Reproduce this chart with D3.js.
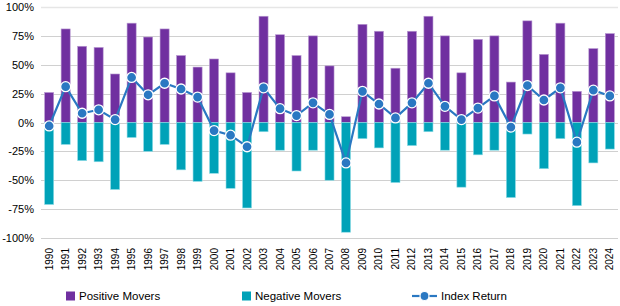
<!DOCTYPE html>
<html>
<head>
<meta charset="utf-8">
<script src="https://cdn.jsdelivr.net/npm/d3@7"></script>
<style>
  body { margin: 0; background: #fff; }
  svg { font-family: "Liberation Sans", Arial, sans-serif; }
</style>
</head>
<body>
<div id="chart"></div>
<script>
var years = ["1990","1991","1992","1993","1994","1995","1996","1997","1998","1999",
  "2000","2001","2002","2003","2004","2005","2006","2007","2008","2009",
  "2010","2011","2012","2013","2014","2015","2016","2017","2018","2019",
  "2020","2021","2022","2023","2024"]

var positiveMovers = [26, 81, 66, 65, 42, 86, 74, 81, 58, 48,
  55, 43, 26, 92, 76, 58, 75, 49, 5, 85,
  79, 47, 79, 92, 75, 43, 72, 75, 35, 88,
  59, 86, 27, 64, 77]

var negativeMovers = [-71, -19, -33, -34, -58, -13, -25, -19, -41, -51,
  -44, -57, -74, -8, -24, -42, -24, -50, -95, -14,
  -22, -52, -20, -8, -24, -56, -28, -24, -65, -10,
  -40, -14, -72, -35, -23]

var indexReturn = [-3, 31, 8, 11, 2.5, 39, 24, 34, 29, 22,
  -7, -11, -21, 30, 12, 6, 17, 7, -35, 27,
  16, 4, 17, 34, 14, 2.5, 12.5, 23, -4, 32,
  19.5, 30, -17, 28, 23]

var yTicks = [1, 0.75, 0.5, 0.25, 0, -0.25, -0.5, -0.75, -1]

var W = 620, H = 306
var margin = { top: 7, right: 2, bottom: 68, left: 41 }
var width = W - margin.left - margin.right
var height = H - margin.top - margin.bottom

var purple = "#7030a0", teal = "#00a2b8", lineBlue = "#2a78c2"

var svg = d3.select("#chart").append("svg")
    .attr("width", W)
    .attr("height", H)

var g = svg.append("g")
    .attr("transform", "translate(" + margin.left + "," + margin.top + ")")

var x = d3.scaleBand()
    .domain(years)
    .range([0, width])
    .paddingInner(0.45)
    .paddingOuter(0.22)

var y = d3.scaleLinear()
    .domain([-1, 1])
    .range([height, 0])

// gridlines
g.selectAll(".grid")
    .data(yTicks)
    .enter()
    .append("line")
    .attr("x1", 0)
    .attr("x2", width)
    .attr("y1", function (d) { return Math.round(y(d)) + 0.5 })
    .attr("y2", function (d) { return Math.round(y(d)) + 0.5 })
    .attr("stroke", function (d) { return d == 1 ? "#e6e6e6" : "#d0d0d0" })
    .attr("stroke-width", function (d) { return d == 1 ? 1.6 : 1 })

// y axis labels
var yAxis = d3.axisLeft(y).tickValues(yTicks).tickSize(0).tickPadding(7)
    .tickFormat(function (d) { return Math.round(d * 100) + "%" })
var ya = g.append("g").call(yAxis)
ya.select(".domain").remove()
ya.selectAll("text").attr("font-size", "11px").attr("fill", "#000")
    .attr("font-family", "Liberation Sans, Arial, sans-serif")

// bars
g.selectAll(".pos")
    .data(positiveMovers)
    .enter()
    .append("rect")
    .attr("x", function (d, i) { return x(years[i]) })
    .attr("width", x.bandwidth())
    .attr("y", function (d) { return y(d / 100) })
    .attr("height", function (d) { return y(0) - y(d / 100) })
    .attr("fill", purple)
    .attr("stroke", "#b99bd2")
    .attr("stroke-width", 0.6)

g.selectAll(".neg")
    .data(negativeMovers)
    .enter()
    .append("rect")
    .attr("x", function (d, i) { return x(years[i]) })
    .attr("width", x.bandwidth())
    .attr("y", y(0))
    .attr("height", function (d) { return y(d / 100) - y(0) })
    .attr("fill", teal)
    .attr("stroke", "#8fdce6")
    .attr("stroke-width", 0.6)

// index return line
var line = d3.line()
    .x(function (d, i) { return x(years[i]) + x.bandwidth() / 2 })
    .y(function (d) { return y(d / 100) })

g.append("path")
    .datum(indexReturn)
    .attr("d", line)
    .attr("fill", "none")
    .attr("stroke", lineBlue)
    .attr("stroke-width", 2.2)

g.selectAll(".dot")
    .data(indexReturn)
    .enter()
    .append("circle")
    .attr("cx", function (d, i) { return x(years[i]) + x.bandwidth() / 2 })
    .attr("cy", function (d) { return y(d / 100) })
    .attr("r", 5)
    .attr("fill", lineBlue)
    .attr("stroke", "#fff")
    .attr("stroke-width", 1.3)

// x labels, rotated
g.selectAll(".xlab")
    .data(years)
    .enter()
    .append("text")
    .attr("transform", function (d) {
        return "translate(" + (x(d) + x.bandwidth() / 2 + 3.5) + "," + (height + 10) + ") rotate(-90)"
    })
    .attr("text-anchor", "end")
    .attr("font-size", "10px")
    .attr("fill", "#000")
    .text(function (d) { return d })

// legend
var legend = svg.append("g")
var ly = 296
legend.append("rect").attr("x", 66).attr("y", ly - 4.5).attr("width", 9).attr("height", 9).attr("fill", purple)
legend.append("text").attr("x", 79).attr("y", ly + 4).attr("font-size", "11.5px").text("Positive Movers")
legend.append("rect").attr("x", 242).attr("y", ly - 4.5).attr("width", 9).attr("height", 9).attr("fill", teal)
legend.append("text").attr("x", 255).attr("y", ly + 4).attr("font-size", "11.5px").text("Negative Movers")
legend.append("line").attr("x1", 412).attr("x2", 437).attr("y1", ly).attr("y2", ly)
    .attr("stroke", lineBlue).attr("stroke-width", 2.2)
legend.append("circle").attr("cx", 424.5).attr("cy", ly).attr("r", 4.5)
    .attr("fill", lineBlue).attr("stroke", "#fff").attr("stroke-width", 1.2)
legend.append("text").attr("x", 441).attr("y", ly + 4).attr("font-size", "11.5px").text("Index Return")
</script>
</body>
</html>
